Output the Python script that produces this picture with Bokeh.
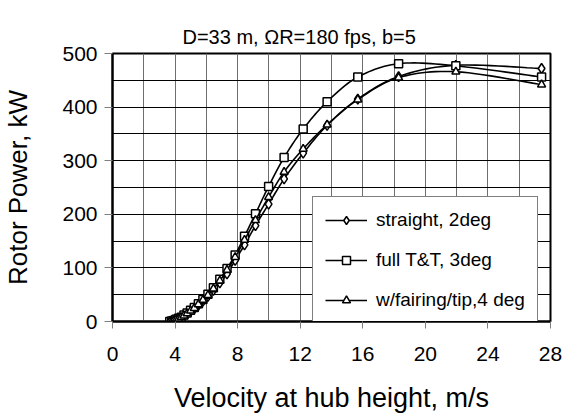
import numpy as np
from bokeh.plotting import figure
from bokeh.models import SingleIntervalTicker, Legend, LegendItem, Range1d, Title
from bokeh.embed import file_html
from bokeh.resources import INLINE

# ---- data ----
velocity = [3.66, 3.78, 3.92, 4.06, 4.22, 4.39, 4.57, 4.77, 4.99, 5.23, 5.49, 5.78,
            6.10, 6.45, 6.86, 7.32, 7.84, 8.44, 9.14, 9.98, 10.97, 12.19, 13.72,
            15.68, 18.29, 21.95, 27.43]
straight_2deg = [0, 1, 1, 3, 5, 7, 10, 14, 19, 24, 30, 38, 47, 58, 72, 89, 114,
                 143, 179, 219, 266, 314, 366, 415, 457, 478, 472]
full_tt_3deg = [0, 1, 2, 4, 6, 8, 12, 16, 21, 26, 33, 41, 51, 63, 79, 99, 124,
                159, 201, 252, 306, 359, 410, 456, 481, 477, 456]
fairing_4deg = [0, 0, 2, 3, 5, 8, 11, 15, 20, 25, 32, 40, 49, 61, 76, 96, 120,
                152, 189, 232, 279, 322, 367, 414, 455, 466, 442]
series_names = ["straight, 2deg", "full T&T, 3deg", "w/fairing/tip,4 deg"]
series_markers = ["diamond", "square", "triangle"]
x_ticks_interval = 4
y_ticks_interval = 100
chart_title = "D=33 m, \u03a9R=180 fps, b=5"
x_title = "Velocity at hub height, m/s"
y_title = "Rotor Power, kW"

FONT = "Liberation Sans"
X0, X1, Y0, Y1 = 0, 28, 0, 500
FW, FH = 438, 269          # frame size in px (used for the smoothing metric)
SX, SY = FW / (X1 - X0), FH / (Y1 - Y0)


def smooth(xs, ys, n=14):
    """Excel-like smoothed line (Catmull-Rom / Bezier) through the data points."""
    P = np.column_stack([np.asarray(xs, float) * SX, np.asarray(ys, float) * SY])
    m = len(P)
    out = [P[0]]
    for i in range(m - 1):
        p0 = P[i - 1] if i > 0 else P[i]
        p1 = P[i]
        p2 = P[i + 1]
        p3 = P[i + 2] if i + 2 < m else P[i + 1]
        c1 = p1 + (p2 - p0) / 6.0
        c2 = p2 - (p3 - p1) / 6.0
        t = np.linspace(0, 1, n)[1:, None]
        b = ((1 - t) ** 3) * p1 + 3 * ((1 - t) ** 2) * t * c1 + 3 * (1 - t) * t ** 2 * c2 + t ** 3 * p2
        out.extend(list(b))
    out = np.array(out)
    return out[:, 0] / SX, out[:, 1] / SY


p = figure(width=568, height=415, output_backend="svg", toolbar_location=None,
           x_range=Range1d(X0, X1), y_range=Range1d(Y0, Y1),
           min_border_left=112, min_border_right=18, min_border_top=53,
           min_border_bottom=93)

p.background_fill_color = "white"
p.border_fill_color = "white"
p.outline_line_color = "black"
p.outline_line_width = 2

# grids
p.xgrid.ticker = SingleIntervalTicker(interval=2)
p.ygrid.ticker = SingleIntervalTicker(interval=50)
p.xgrid.grid_line_color = "#6e6e6e"
p.xgrid.grid_line_width = 1
p.ygrid.grid_line_color = "black"
p.ygrid.grid_line_width = 1

# axes
for ax in (p.xaxis[0], p.yaxis[0]):
    ax.axis_line_color = "black"
    ax.axis_line_width = 2
    ax.major_tick_line_color = "#808080"
    ax.major_tick_line_width = 1
    ax.major_tick_in = 0
    ax.minor_tick_line_color = None
    ax.major_label_text_font = FONT
    ax.major_label_text_color = "black"
    ax.major_label_text_font_size = "21px"
    ax.axis_label_text_font = FONT
    ax.axis_label_text_font_style = "normal"
    ax.axis_label_text_color = "black"

p.xaxis.axis_label_text_font_size = "27px"
p.yaxis.axis_label_text_font_size = "26px"
p.xaxis.ticker = SingleIntervalTicker(interval=x_ticks_interval)
p.yaxis.ticker = SingleIntervalTicker(interval=y_ticks_interval)
p.xaxis.major_tick_out = 7
p.yaxis.major_tick_out = 8
p.xaxis.major_label_standoff = 18
p.yaxis.major_label_standoff = 7
p.xaxis.axis_label = x_title
p.yaxis.axis_label = y_title
p.xaxis.axis_label_standoff = 19
p.yaxis.axis_label_standoff = 26

# Excel centres the chart title over the whole chart area, not the plot frame
title = Title(text=chart_title, align="left", offset=70, vertical_align="top",
              text_font=FONT, text_font_size="20px", text_font_style="normal",
              text_color="black", standoff=8)
p.add_layout(title, "above")

# invisible spacer between the frame and the chart title (pushes the title up)
spacer = Title(text="D", text_alpha=0.0, text_font=FONT, text_font_size="14px",
               standoff=0, align="left")
p.add_layout(spacer, "above")

items = []
for name, marker, ys in zip(series_names, series_markers,
                            [straight_2deg, full_tt_3deg, fairing_4deg]):
    sxs, sys_ = smooth(velocity, ys)
    lr = p.line(sxs, sys_, line_color="black", line_width=1.6)
    size = 10 if marker == "diamond" else 8
    sr = p.scatter(velocity, ys, marker=marker, size=size, fill_color="white",
                   line_color="black", line_width=1.5)
    items.append(LegendItem(label=name, renderers=[lr, sr]))

legend = Legend(items=items, location=(200, -3), orientation="vertical",
                label_text_font=FONT, label_text_font_size="19px",
                label_text_color="black", border_line_color="black",
                border_line_width=1, background_fill_color="white",
                background_fill_alpha=1.0, padding=12, spacing=18,
                label_height=20, glyph_height=20, glyph_width=42,
                label_standoff=9, margin=0)
p.add_layout(legend, "center")

open("out.html", "w").write(file_html(p, INLINE))
